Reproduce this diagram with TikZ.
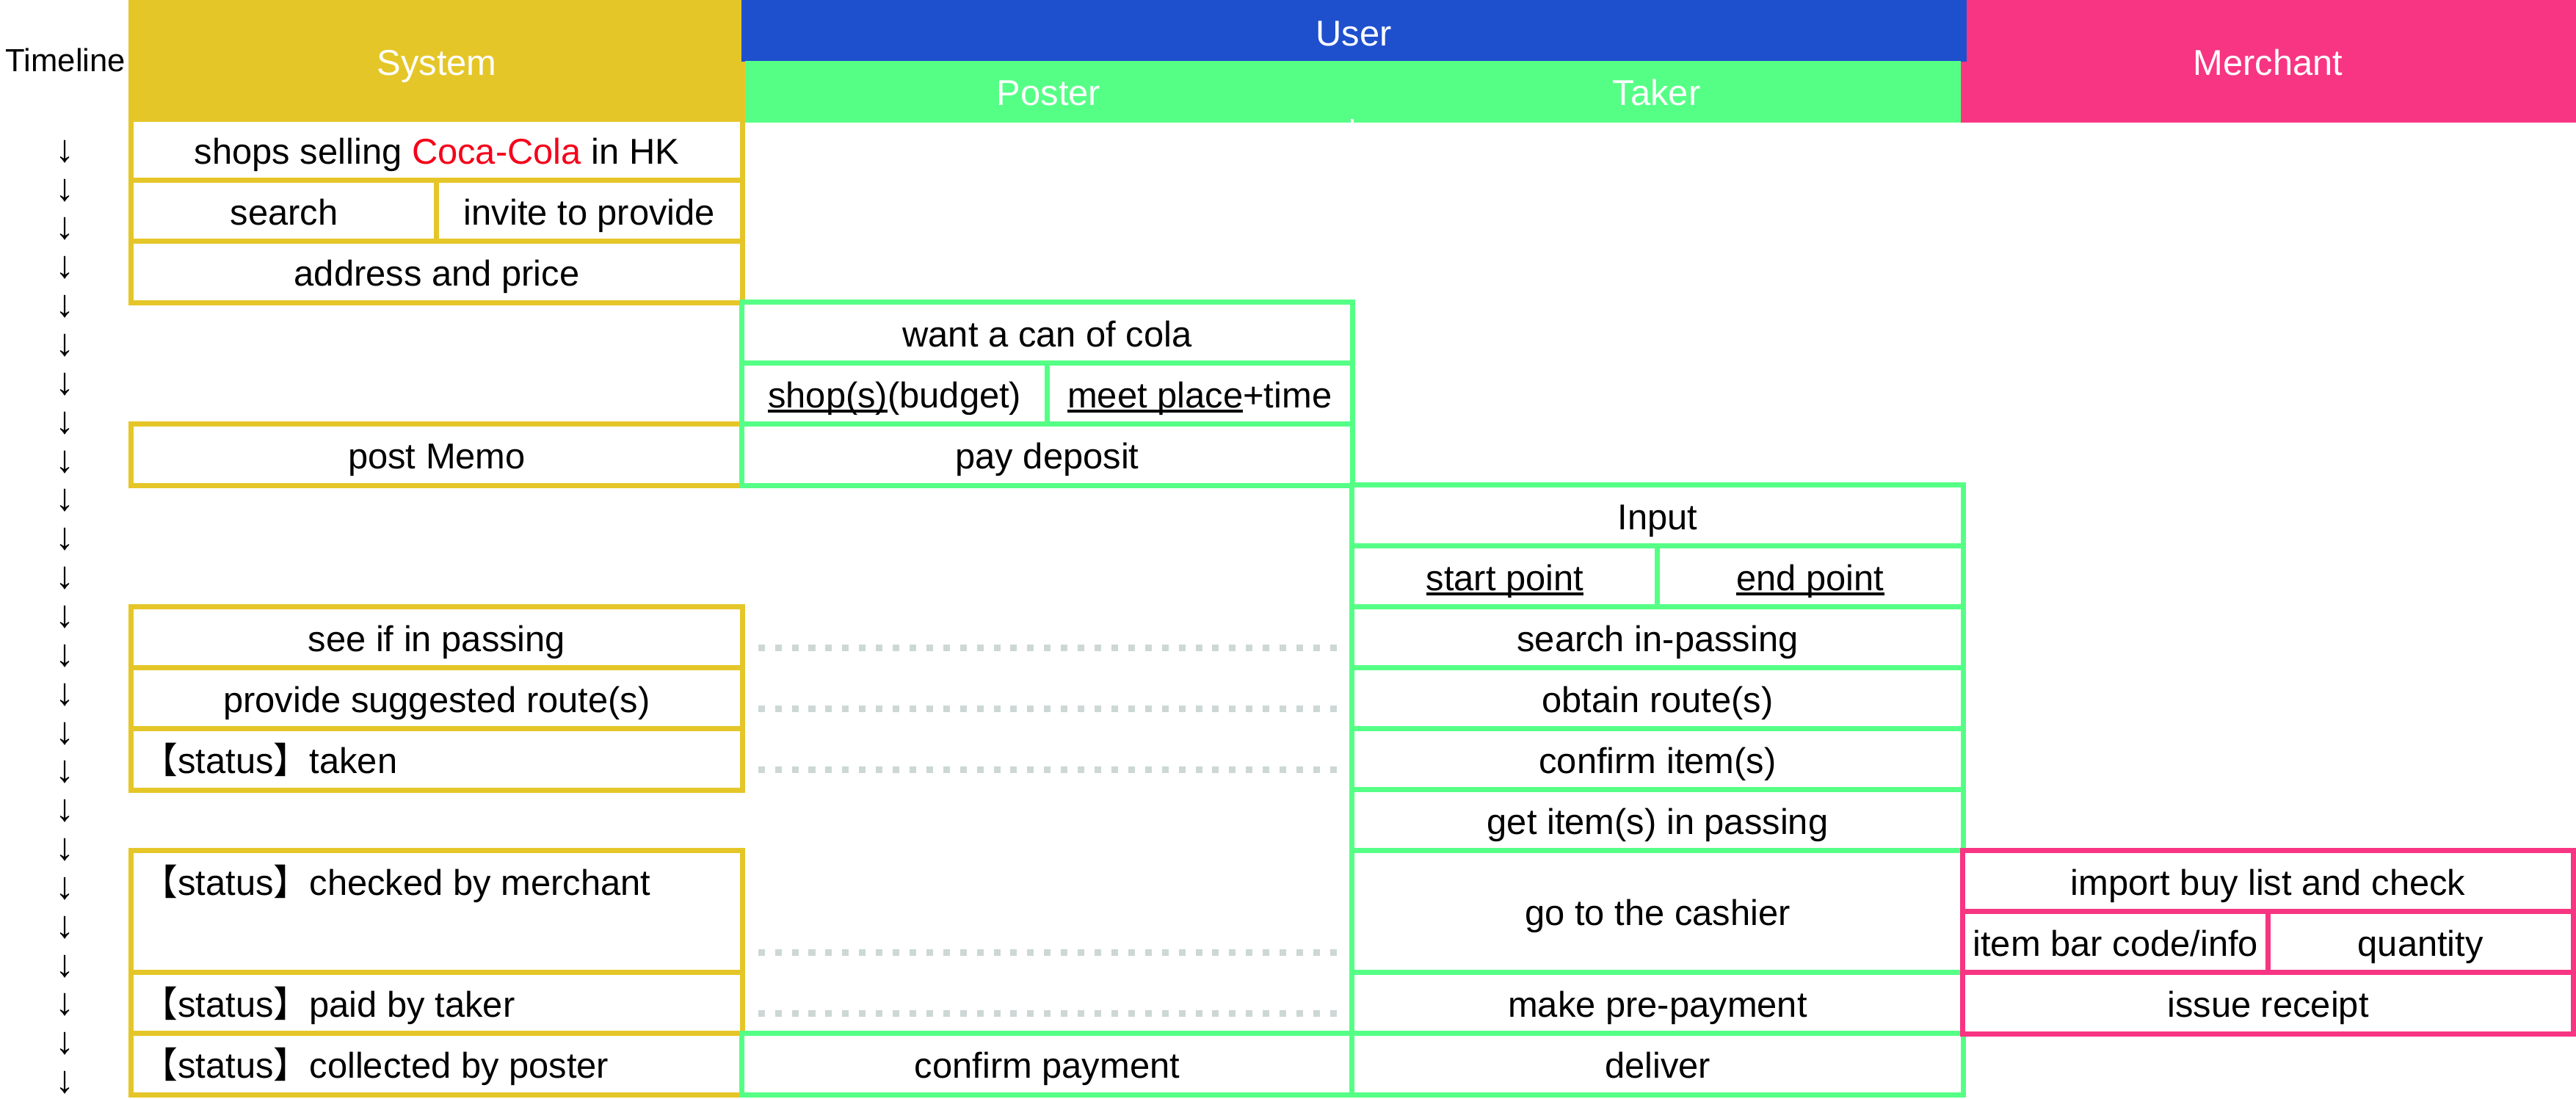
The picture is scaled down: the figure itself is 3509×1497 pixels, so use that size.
\documentclass[tikz,border=0pt]{standalone}
\usepackage{fontspec}
\setmainfont{Liberation Sans}
\newfontfamily\cjk{Noto Sans CJK SC}
\usetikzlibrary{calc}
\definecolor{sysy}{HTML}{E5C628}
\definecolor{usrb}{HTML}{1E50CE}
\definecolor{usrg}{HTML}{55FF85}
\definecolor{merp}{HTML}{F83582}
\definecolor{dotc}{HTML}{CDD8D6}
\definecolor{cola}{HTML}{F5001A}
\newcommand\ulx[1]{\setbox0=\hbox{#1}\rlap{\rule[-0.15em]{\wd0}{0.09em}}\box0}
\newcommand\stat{{\cjk 【}status{\cjk 】}}
\tikzset{
  cellbox/.style={draw=#1, fill=white, line width=0.07cm, inner sep=0pt, outer sep=0pt,
    text height=0.37cm, text depth=0cm, align=center, minimum height=0.83cm},
  fullw/.style={minimum width=8.32cm},
  halfw/.style={minimum width=4.16cm},
  dblh/.style={minimum height=1.66cm},
  hdr/.style={fill=#1, draw=none, text=white, inner sep=0pt, outer sep=0pt,
    text height=0.37cm, text depth=0cm},
  statlbl/.style={anchor=base west, inner sep=0pt},
  dotline/.style={draw=dotc, line width=0.09cm, dash pattern=on 0.09cm off 0.139cm},
  tarrow/.style={anchor=south, inner sep=0pt, font=\fontsize{14.8}{16}\selectfont},
}
\begin{document}
\begin{tikzpicture}[x=0.01cm, y=-0.01cm, font=\fontsize{13.9}{16}\selectfont]
\useasboundingbox (0,0) rectangle (3509,1497);

% headers
\node[hdr=sysy, minimum width=8.40cm, minimum height=1.67cm] (hsys) at (595,83.5) {System};
\node[hdr=merp, minimum width=8.39cm, minimum height=1.67cm] (hmer) at (3089.5,83.5) {Merchant};
\node[hdr=usrb, minimum width=16.68cm, minimum height=0.84cm, text height=0.41cm] (husr) at (1844,42) {User};
\node[hdr=usrg, minimum width=8.27cm, minimum height=0.84cm] (hpos) at (1428.5,125) {Poster};
\node[hdr=usrg, minimum width=8.29cm, minimum height=0.84cm] (htak) at (2256.5,125) {Taker};
\draw[white, line width=0.04cm] ($(hpos.south east)+(0,-5)$) -- (hpos.south east);

\node[anchor=base, inner sep=0pt, font=\fontsize{12.4}{14}\selectfont] (tl) at (89.5,98) {Timeline};

% timeline arrows
\foreach \k in {0,...,24} {
  \node[tarrow] (a\k) at (89, 222.5+52.85*\k) {↓};
}

% System cells
\node[cellbox=sysy, fullw] (s1) at (595,204.5) {shops selling \textcolor{cola}{Coca-Cola} in HK};
\node[cellbox=sysy, halfw] (s2a) at (387,287.5) {search};
\node[cellbox=sysy, halfw] (s2b) at (803,287.5) {invite to provide};
\node[cellbox=sysy, fullw] (s3) at (595,370.5) {address and price};
\node[cellbox=sysy, fullw] (s6) at (595,619.5) {post Memo};
\node[cellbox=sysy, fullw] (s9) at (595,868.5) {see if in passing};
\node[cellbox=sysy, fullw] (s10) at (595,951.5) {provide suggested route(s)};
\node[cellbox=sysy, fullw] (s11) at (595,1034.5) {};
\node[cellbox=sysy, fullw, dblh] (s13) at (595,1242) {};
\node[cellbox=sysy, fullw] (s15) at (595,1366.5) {};
\node[cellbox=sysy, fullw] (s16) at (595,1449.5) {};
\node[statlbl] (l11) at ($(s11.west)+(14,18.5)$) {\stat taken};
\node[statlbl] (l13) at ($(s13.west)+(14,-23)$) {\stat checked by merchant};
\node[statlbl] (l15) at ($(s15.west)+(14,18.5)$) {\stat paid by taker};
\node[statlbl] (l16) at ($(s16.west)+(14,18.5)$) {\stat collected by poster};

% Poster cells
\node[cellbox=usrg, fullw] (p4) at (1426.5,453.5) {want a can of cola};
\node[cellbox=usrg, halfw] (p5a) at (1218.75,536.5) {\ulx{shop(s)}(budget)};
\node[cellbox=usrg, halfw] (p5b) at (1634.25,536.5) {\ulx{meet place}+time};
\node[cellbox=usrg, fullw] (p6) at (1426.5,619.5) {pay deposit};
\node[cellbox=usrg, fullw] (p16) at (1426.5,1449.5) {confirm payment};

% Taker cells
\node[cellbox=usrg, fullw] (t7) at (2258,702.5) {Input};
\node[cellbox=usrg, halfw] (t8a) at (2050,785.5) {\ulx{start point}};
\node[cellbox=usrg, halfw] (t8b) at (2466,785.5) {\ulx{end point}};
\node[cellbox=usrg, fullw] (t9) at (2258,868.5) {search in-passing};
\node[cellbox=usrg, fullw] (t10) at (2258,951.5) {obtain route(s)};
\node[cellbox=usrg, fullw] (t11) at (2258,1034.5) {confirm item(s)};
\node[cellbox=usrg, fullw] (t12) at (2258,1117.5) {get item(s) in passing};
\node[cellbox=usrg, fullw, dblh] (t13) at (2258,1242) {go to the cashier};
\node[cellbox=usrg, fullw] (t15) at (2258,1366.5) {make pre-payment};
\node[cellbox=usrg, fullw] (t16) at (2258,1449.5) {deliver};

% Merchant cells
\node[cellbox=merp, fullw] (m13) at (3089.5,1200.5) {import buy list and check};
\node[cellbox=merp, halfw] (m14a) at (2881.75,1283.5) {item bar code/info};
\node[cellbox=merp, halfw] (m14b) at (3297.25,1283.5) {quantity};
\node[cellbox=merp, fullw] (m15) at (3089.5,1366.5) {issue receipt};

% dotted links
\draw[dotline] ($(s9.east)+(21.5,13.5)$) -- ($(t9.west)+(-20,13.5)$);
\draw[dotline] ($(s10.east)+(21.5,13.5)$) -- ($(t10.west)+(-20,13.5)$);
\draw[dotline] ($(s11.east)+(21.5,13.5)$) -- ($(t11.west)+(-20,13.5)$);
\draw[dotline] ($(s13.east)+(21.5,55)$) -- ($(t13.west)+(-20,55)$);
\draw[dotline] ($(s15.east)+(21.5,13.5)$) -- ($(t15.west)+(-20,13.5)$);
\end{tikzpicture}
\end{document}
